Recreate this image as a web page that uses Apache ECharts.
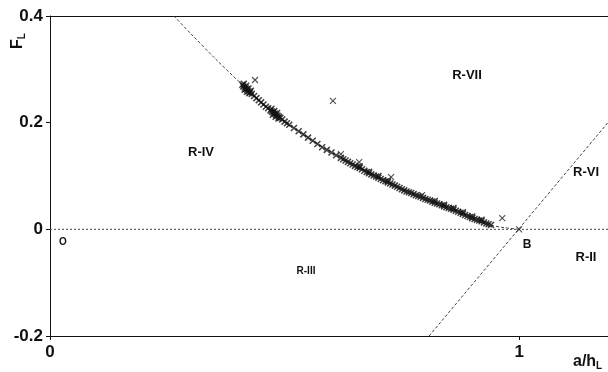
<!DOCTYPE html>
<html>
<head>
<meta charset="utf-8">
<script src="https://cdn.jsdelivr.net/npm/echarts@6/dist/echarts.min.js"></script>
<style>
html,body{margin:0;padding:0;background:#fff;overflow:hidden;width:608px;height:372px;}
#chart{width:640px;height:372px;}
</style>
</head>
<body>
<div id="chart"></div>
<script>
// ---- data ----
var xTicks = [0, 1];
var yTicks = [-0.2, 0, 0.2, 0.4];

// measured points forming the dense band
var measuredPoints = [
  [0.410,0.271],[0.412,0.268],[0.415,0.266],[0.418,0.264],[0.420,0.262],[0.423,0.259],
  [0.426,0.257],[0.430,0.254],[0.435,0.250],[0.440,0.246],[0.445,0.242],[0.450,0.238],
  [0.455,0.234],[0.460,0.230],[0.465,0.227],[0.470,0.223],[0.473,0.221],[0.476,0.219],
  [0.479,0.217],[0.482,0.215],[0.485,0.213],[0.488,0.211],[0.491,0.209],[0.495,0.206],
  [0.500,0.202],[0.505,0.199],[0.510,0.196],[0.520,0.190],[0.530,0.184],[0.540,0.178],[0.550,0.172],
  [0.560,0.166],[0.570,0.160],[0.580,0.154],[0.590,0.149],[0.600,0.144],[0.610,0.139],
  [0.620,0.134],[0.625,0.1315],[0.630,0.129],[0.635,0.1265],[0.640,0.124],[0.645,0.1215],[0.650,0.119],
  [0.655,0.117],[0.660,0.115],[0.665,0.1125],[0.670,0.110],[0.675,0.1075],[0.680,0.105],
  [0.685,0.103],[0.690,0.101],[0.695,0.099],[0.700,0.097],[0.705,0.0945],[0.710,0.092],
  [0.715,0.090],[0.720,0.088],[0.725,0.086],[0.730,0.084],[0.735,0.082],[0.740,0.080],[0.745,0.0775],
  [0.750,0.075],[0.755,0.073],[0.760,0.071],[0.765,0.0695],[0.770,0.068],[0.775,0.066],[0.780,0.064],
  [0.785,0.0625],[0.790,0.061],[0.795,0.059],[0.800,0.057],[0.805,0.0555],[0.810,0.054],
  [0.815,0.052],[0.820,0.050],[0.825,0.0485],[0.830,0.047],[0.835,0.045],[0.840,0.043],
  [0.845,0.0415],[0.850,0.040],[0.855,0.0385],[0.860,0.037],[0.865,0.035],[0.870,0.033],
  [0.875,0.031],[0.880,0.029],[0.885,0.027],[0.890,0.025],[0.895,0.023],[0.900,0.021],
  [0.905,0.0195],[0.910,0.018],[0.915,0.0165],[0.920,0.015],[0.925,0.013],[0.930,0.011],
  [0.935,0.0095],[0.940,0.008],
  [0.413,0.273],[0.418,0.269],[0.423,0.264],[0.428,0.260],[0.415,0.262],[0.420,0.258],[0.425,0.255],
  [0.472,0.226],[0.478,0.222],[0.484,0.218],[0.475,0.215],[0.481,0.211],[0.487,0.208],
  [0.660,0.118],[0.680,0.108],[0.700,0.100],[0.720,0.091],
  [0.820,0.053],[0.840,0.046],[0.860,0.040],[0.880,0.032],[0.900,0.024],[0.920,0.018]
];

// isolated crosses off the band
var outlierPoints = [
  [0.437,0.280],[0.603,0.241],[0.620,0.141],[0.659,0.126],[0.727,0.098],
  [0.793,0.064],[0.964,0.021],[1.000,0.000]
];

// dotted theoretical boundary curve through B
var theoryCurve = [
  [0.264,0.400],[0.300,0.367],[0.350,0.322],[0.410,0.271],[0.480,0.216],[0.550,0.172],
  [0.620,0.134],[0.700,0.097],[0.780,0.064],[0.860,0.037],[0.940,0.008],[0.970,0.003],[1.000,0.000]
];

// dotted straight boundary through B
var boundaryLine = [[0.808,-0.2],[1.232,0.245]];
// dotted zero line
var zeroLine = [[0,0],[1.232,0]];

var regionLabels = ['R-VII','R-IV','R-III','R-VI','R-II','B','O'];

// ---- chart ----
var chart = echarts.init(document.getElementById('chart'), null, {renderer:'canvas', width:640, height:372});
var dotted = {color:'#444', width:1, type:[2,2]};
var dashedStyle = {color:'#444', width:1, type:[3,2]};
var crossSymbol = 'path://M0,0L10,10M10,0L0,10';
var labelFont = {fontFamily:'Liberation Sans, Arial, sans-serif', fontSize:17, fontWeight:'bold', color:'#111'};

function fmt(v){ var r = Math.round(v*10)/10; return r === 0 ? '0' : String(r); }

chart.setOption({
  animation:false,
  backgroundColor:'#fff',
  grid:{left:50, top:16, right:12, bottom:36},
  xAxis:[{
    type:'value', min:0, max:1.232, interval:1, position:'bottom',
    axisLine:{show:true, onZero:false, lineStyle:{color:'#111', width:1}},
    axisTick:{show:true, length:4, inside:false, customValues:xTicks, lineStyle:{color:'#111'}},
    axisLabel:Object.assign({customValues:xTicks, margin:8, formatter:fmt}, labelFont),
    splitLine:{show:false}
  },{
    type:'value', min:0, max:1.232, position:'top',
    axisLine:{show:true, onZero:false, lineStyle:{color:'#111', width:1}},
    axisTick:{show:false}, axisLabel:{show:false}, splitLine:{show:false}
  }],
  yAxis:{
    type:'value', min:-0.2, max:0.4, interval:0.2,
    axisLine:{show:true, onZero:false, lineStyle:{color:'#111', width:1}},
    axisTick:{show:true, length:4, customValues:yTicks, lineStyle:{color:'#111'}},
    axisLabel:Object.assign({customValues:yTicks, margin:7, formatter:fmt}, labelFont),
    splitLine:{show:false}
  },
  series:[
    {type:'line', data:zeroLine, symbol:'none', lineStyle:dotted, silent:true, z:1},
    {type:'line', data:boundaryLine, symbol:'none', lineStyle:dashedStyle, silent:true, z:1},
    {type:'line', data:theoryCurve, symbol:'none', smooth:0.3, lineStyle:dashedStyle, silent:true, z:1},
    {type:'scatter', data:measuredPoints, symbol:crossSymbol, symbolSize:6,
      itemStyle:{color:'transparent', borderColor:'#111', borderWidth:1.5}, silent:true, z:3},
    {type:'scatter', data:outlierPoints, symbol:crossSymbol, symbolSize:6,
      itemStyle:{color:'transparent', borderColor:'#222', borderWidth:1.1}, silent:true, z:3}
  ],
  graphic:[
    {type:'text', x:467, y:75, style:{text:regionLabels[0], font:'bold 13px Liberation Sans, Arial', fill:'#111', align:'center', verticalAlign:'middle'}},
    {type:'text', x:201, y:152, style:{text:regionLabels[1], font:'bold 13px Liberation Sans, Arial', fill:'#111', align:'center', verticalAlign:'middle'}},
    {type:'text', x:306, y:271, style:{text:regionLabels[2], font:'bold 10px Liberation Sans, Arial', fill:'#111', align:'center', verticalAlign:'middle'}},
    {type:'text', x:586, y:172, style:{text:regionLabels[3], font:'bold 13px Liberation Sans, Arial', fill:'#111', align:'center', verticalAlign:'middle'}},
    {type:'text', x:586, y:257, style:{text:regionLabels[4], font:'bold 13px Liberation Sans, Arial', fill:'#111', align:'center', verticalAlign:'middle'}},
    {type:'text', x:527, y:245, style:{text:regionLabels[5], font:'bold 12px Liberation Sans, Arial', fill:'#111', align:'center', verticalAlign:'middle'}},
    {type:'text', x:63, y:242, style:{text:regionLabels[6], font:'bold 10px Liberation Sans, Arial', fill:'#111', align:'center', verticalAlign:'middle'}},
    {type:'text', x:18, y:41, rotation:Math.PI/2,
      style:{text:'{a|F}{b|L}', align:'center', verticalAlign:'middle',
        rich:{a:{font:'bold 16px Liberation Sans, Arial', fill:'#111'}, b:{font:'bold 10px Liberation Sans, Arial', fill:'#111', padding:[8,0,0,0]}}}},
    {type:'text', x:573, y:362,
      style:{text:'{a|a/h}{b|L}', align:'left', verticalAlign:'middle',
        rich:{a:{font:'bold 16px Liberation Sans, Arial', fill:'#111'}, b:{font:'bold 10px Liberation Sans, Arial', fill:'#111', padding:[8,0,0,0]}}}}
  ]
});
</script>
</body>
</html>
